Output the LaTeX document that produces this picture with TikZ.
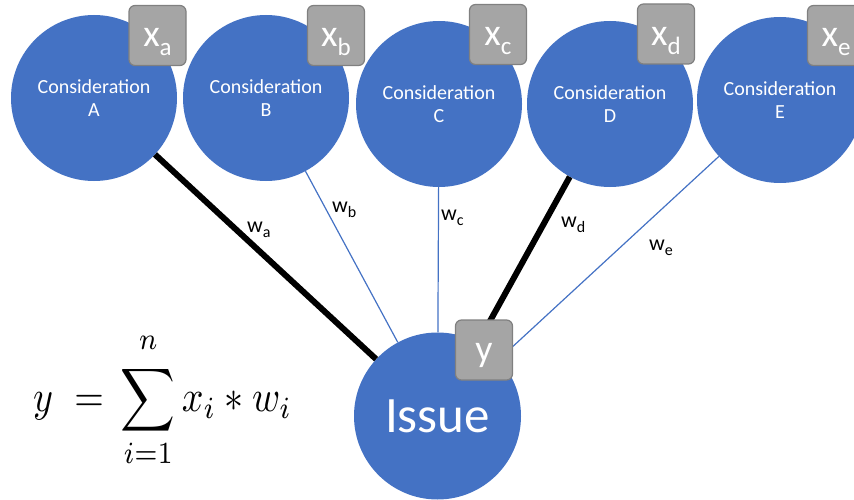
\documentclass[tikz,border=0pt]{standalone}
\usepackage{fontspec}
\setmainfont{Carlito}
\usepackage{graphicx}
\definecolor{cblue}{HTML}{4472C4}
\definecolor{boxgray}{HTML}{A5A5A5}
\definecolor{boxedge}{HTML}{808080}
\newcommand\boxlab[1]{{\fontsize{38}{38}\selectfont x}\raisebox{-9pt}{\fontsize{25}{25}\selectfont #1}}
\newcommand\wlabel[1]{w\raisebox{-5pt}{\fontsize{16}{16}\selectfont #1}}
\begin{document}
\begin{tikzpicture}[x=1pt,y=-1pt,
  consid/.style={circle, fill=cblue, minimum size=166pt, inner sep=0pt, text=white, align=center, font=\fontsize{20}{23}\selectfont},
  valbox/.style={rectangle, rounded corners=6pt, fill=boxgray, draw=boxedge, line width=1.2pt, minimum width=57pt, minimum height=60pt, inner sep=0pt, text=white, text height=30pt, text depth=7pt},
  strong/.style={line width=6pt, black},
  weak/.style={line width=1.2pt, cblue},
  wlab/.style={font=\fontsize{22}{22}\selectfont, inner sep=0pt, anchor=base west}
]
\useasboundingbox (0,0) rectangle (854,500);
\clip (0,0) rectangle (854,500);

\node[consid] (A) at (94,98) {Consideration\\A};
\node[consid] (B) at (266,98) {Consideration\\B};
\node[consid] (C) at (439,104) {Consideration\\C};
\node[consid] (D) at (610,104) {Consideration\\D};
\node[consid] (E) at (780,100) {Consideration\\E};
\node[consid, minimum size=167pt, font=\fontsize{51}{51}\selectfont] (I) at (437.5,416) {Issue};

\draw[strong] (A) -- (I);
\draw[weak] (B) -- (I);
\draw[weak] (C) -- (I);
\draw[strong] (D) -- (I);
\draw[weak] (E) -- (I);

\node[valbox] (xa) at (157.5,35.5) {\boxlab{a}};
\node[valbox] (xb) at (336,35.5) {\boxlab{b}};
\node[valbox] (xc) at (498,34.5) {\boxlab{c}};
\node[valbox] (xd) at (666,34) {\boxlab{d}};
\node[valbox] (xe) at (836,35.5) {\boxlab{e}};
\node[valbox] (y) at (484,350) {{\fontsize{38}{38}\selectfont y}};

\node[wlab] (wa) at (247,232) {\wlabel{a}};
\node[wlab] (wb) at (332,212) {\wlabel{b}};
\node[wlab] (wc) at (441,220) {\wlabel{c}};
\node[wlab] (wd) at (561,227) {\wlabel{d}};
\node[wlab] (we) at (649,250) {\wlabel{e}};

\node[anchor=west, inner sep=0pt] (f) at (33,400) {\scalebox{3.8}[4.4]{$\displaystyle y \;=\, \sum_{i=1}^{\raisebox{1.5pt}{$\scriptstyle n$}} x_i * w_i$}};
\end{tikzpicture}
\end{document}
